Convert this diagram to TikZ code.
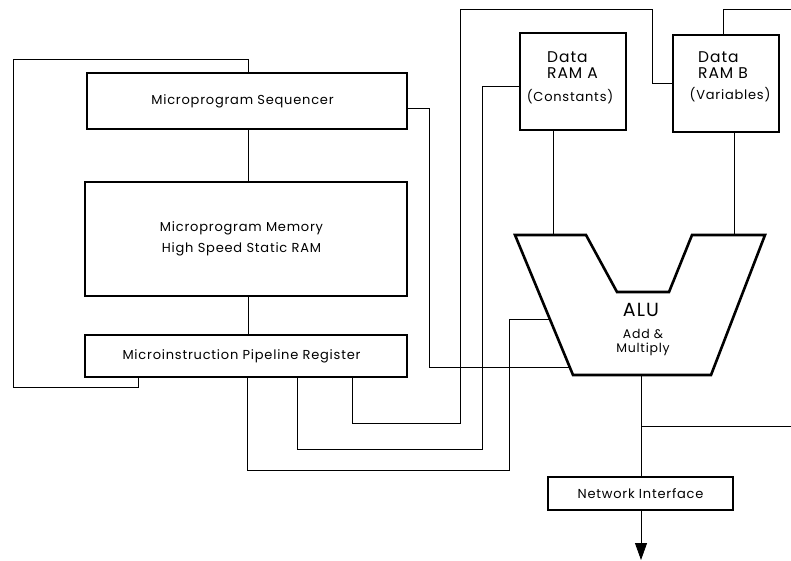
\documentclass[tikz,border=0pt]{standalone}
\usepackage{fontspec}
\setmainfont{Poppins}[LetterSpace=6]
\usetikzlibrary{arrows.meta}
\newcommand{\padR}{\hspace*{9pt}}
\begin{document}
\begin{tikzpicture}[x=1pt,y=-1pt,
  blk/.style={draw,line width=2.6pt,inner sep=0pt,font=\fontsize{13}{15}\selectfont},
  wire/.style={draw,line width=0.8pt},
  lbl/.style={inner sep=0pt,font=\fontsize{13}{15}\selectfont},
  big/.style={inner sep=0pt,anchor=west,font=\fontsize{15.5}{17}\selectfont}]
\useasboundingbox (0,0) rectangle (791,560);

% control path boxes
\node[blk,minimum width=320pt,minimum height=56pt] (seq) at (247,101) {Microprogram Sequencer\padR};
\node[blk,minimum width=322pt,minimum height=114pt,align=center,
      font=\fontsize{13}{21}\selectfont] (mem) at (246,239)
      {Microprogram Memory\padR\\High Speed Static RAM\padR};
\node[blk,minimum width=322pt,minimum height=42pt] (pipe) at (246,356) {Microinstruction Pipeline Register\padR};

% data memories
\node[blk,minimum width=106pt,minimum height=97pt] (ramA) at (573,81.5) {};
\node[big] (ramAa) at (547,57) {Data};
\node[big] (ramAb) at (547,73) {RAM A};
\node[lbl] (ramAc) at (570,97) {(Constants)};
\node[blk,minimum width=106pt,minimum height=97pt] (ramB) at (726,83.5) {};
\node[big] (ramBa) at (698,57) {Data};
\node[big] (ramBb) at (698,73) {RAM B};
\node[lbl] (ramBc) at (730,95) {(Variables)};

% ALU outline
\coordinate (oTL) at (515,235);
\coordinate (iTL) at (586,235);
\coordinate (nL)  at (617,292);
\coordinate (nR)  at (669,292);
\coordinate (iTR) at (692,235);
\coordinate (oTR) at (765,235);
\coordinate (bR)  at (711,375);
\coordinate (bL)  at (573,375);
\draw[line width=2.6pt,line join=miter] (oTL) -- (iTL) -- (nL) -- (nR) -- (iTR) -- (oTR) -- (bR) -- (bL) -- cycle;
\node[lbl] (alu) at (641,310) {\fontsize{19}{21}\selectfont ALU};
\node[lbl,align=center,font=\fontsize{12.5}{14}\selectfont] (aluop) at (643,342) {Add \&\\Multiply};

% ALU ports
\coordinate (aluA) at (553,235);
\coordinate (aluB) at (734,235);
\coordinate (aluIn1) at (550,319);
\coordinate (aluIn2) at (570,367);
\coordinate (aluOut) at (641,375);

\node[blk,minimum width=185pt,minimum height=33pt] (net) at (640.5,493.5) {Network Interface};

% sequencer / memory / pipeline chain
\draw[wire] (seq.south -| 248,0) -- (mem.north -| 248,0);
\draw[wire] (mem.south -| 248,0) -- (pipe.north -| 248,0);
% next-address feedback loop
\draw[wire] (pipe.south -| 138,0) -- (138,387) -- (13,387) -- (13,59) -- (248,59) -- (seq.north -| 248,0);
% sequencer status to ALU
\draw[wire] (seq.east |- 0,108) -- (429,108) -- (429,367) -- (aluIn2);
% pipeline control fields
\draw[wire] (pipe.south -| 352,0) -- (352,423) -- (460,423) -- (460,9) -- (652,9) -- (652,83) -- (ramB.west |- 0,83);
\draw[wire] (pipe.south -| 297,0) -- (297,449) -- (482,449) -- (482,86) -- (ramA.west |- 0,86);
\draw[wire] (pipe.south -| 247,0) -- (247,470) -- (509,470) -- (509,319) -- (aluIn1);

% data paths
\draw[wire] (ramA.south -| aluA) -- (aluA);
\draw[wire] (ramB.south -| aluB) -- (aluB);
\coordinate (outR) at (791,426);
\coordinate (topR) at (791,9);
\draw[wire] (ramB.north -| 723,0) -- (723,9) -- (topR);
\draw[wire] (aluOut) -- (net.north -| aluOut);
\draw[wire] (641,426) -- (outR);
\coordinate (sink) at (641,560);
\draw[wire,-{Triangle[length=17pt,width=12pt]}] (net.south -| sink) -- (sink);
\end{tikzpicture}
\end{document}
